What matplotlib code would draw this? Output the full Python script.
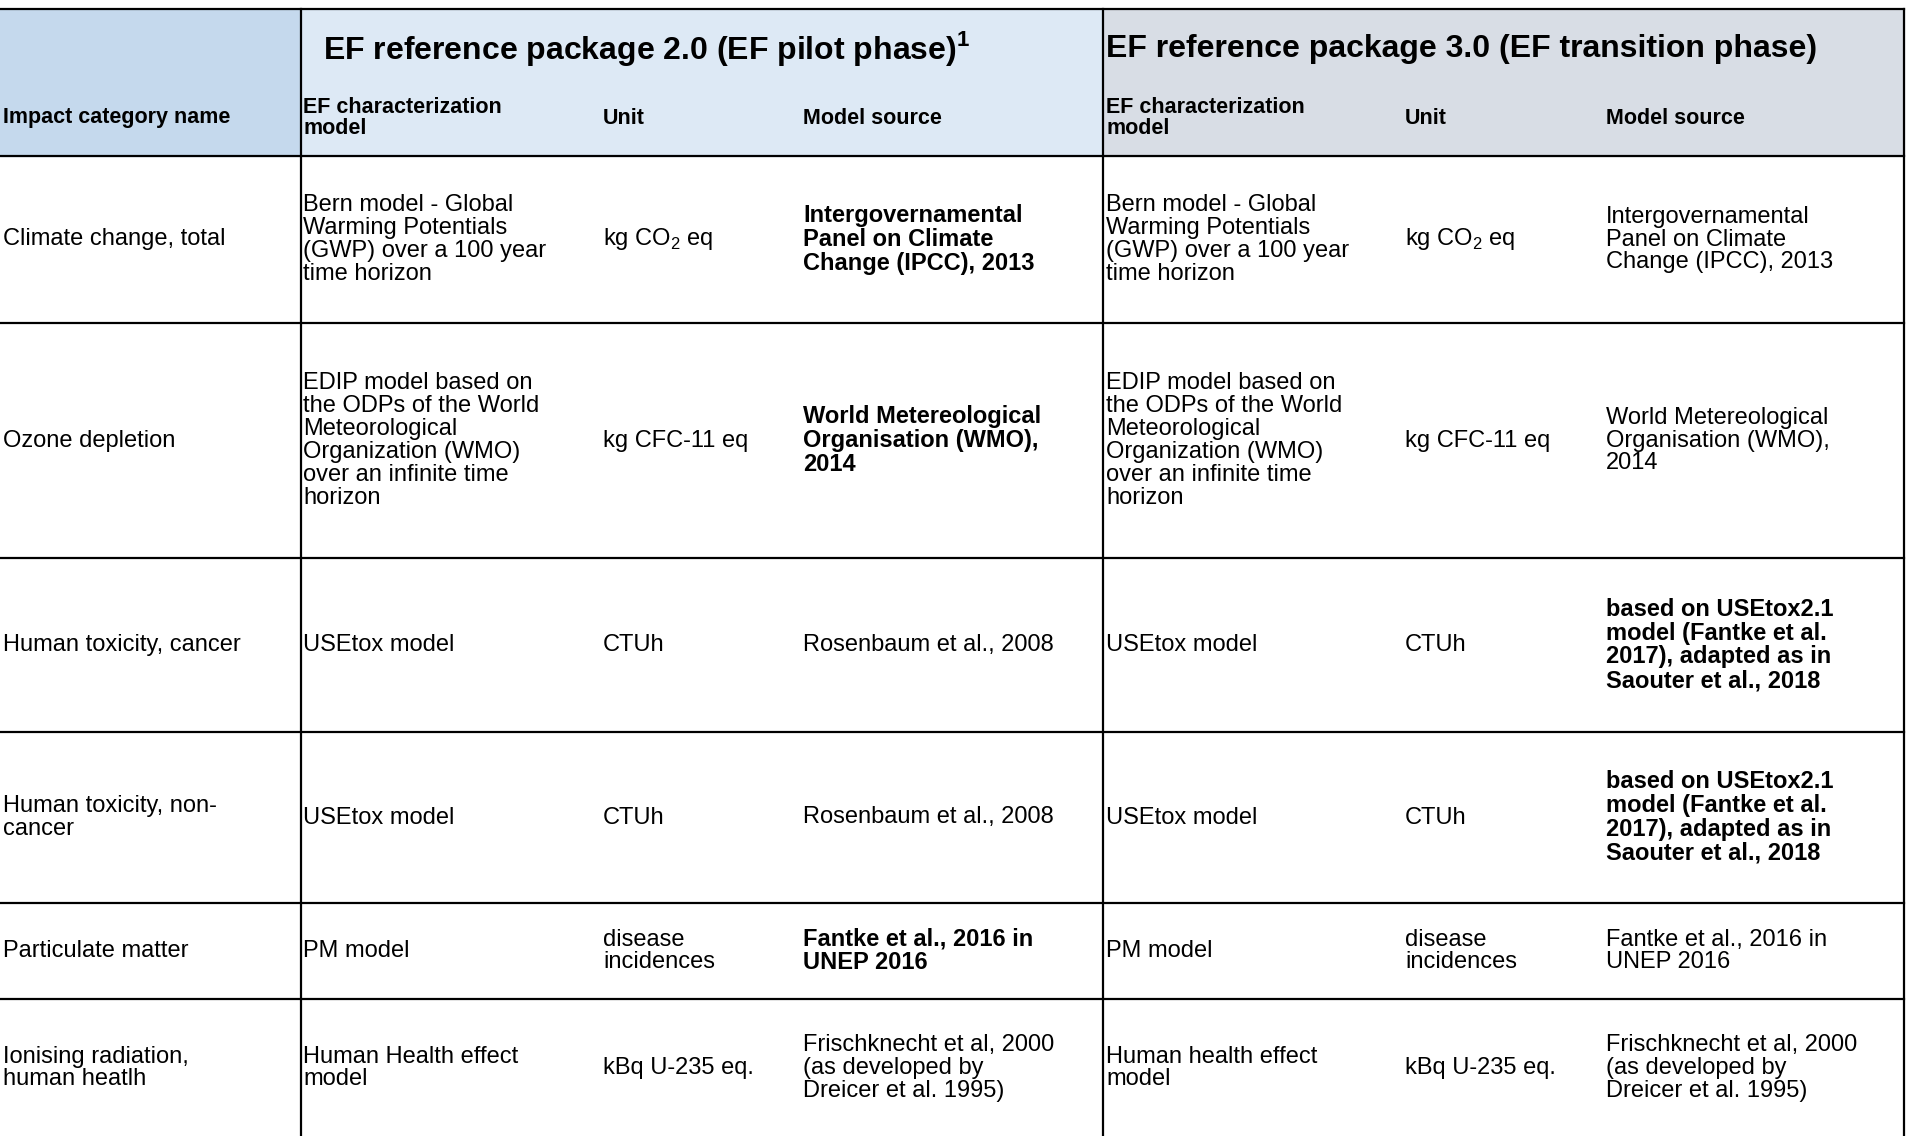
import matplotlib.pyplot as plt
from matplotlib.patches import Rectangle

plt.rcParams['font.family'] = ['Liberation Sans', 'DejaVu Sans']
plt.rcParams['mathtext.fontset'] = 'custom'
plt.rcParams['mathtext.rm'] = 'Liberation Sans'
plt.rcParams['mathtext.bf'] = 'Liberation Sans:bold'

# table content
titles = [r"EF reference package 2.0 (EF pilot phase)$^\mathbf{1}$",
          "EF reference package 3.0 (EF transition phase)"]
sub_headers = ["EF characterization\nmodel", "Unit", "Model source"]
impact_names = ["Climate change, total", "Ozone depletion", "Human toxicity, cancer",
                "Human toxicity, non-\ncancer", "Particulate matter",
                "Ionising radiation,\nhuman heatlh"]
ef2_model = ["Bern model - Global\nWarming Potentials\n(GWP) over a 100 year\ntime horizon",
             "EDIP model based on\nthe ODPs of the World\nMeteorological\nOrganization (WMO)\nover an infinite time\nhorizon",
             "USEtox model", "USEtox model", "PM model", "Human Health effect\nmodel"]
ef3_model = ["Bern model - Global\nWarming Potentials\n(GWP) over a 100 year\ntime horizon",
             "EDIP model based on\nthe ODPs of the World\nMeteorological\nOrganization (WMO)\nover an infinite time\nhorizon",
             "USEtox model", "USEtox model", "PM model", "Human health effect\nmodel"]
units = ["kg CO$_2$ eq", "kg CFC-11 eq", "CTUh", "CTUh", "disease\nincidences",
         "kBq U-235 eq."]
ef2_source = ["Intergovernamental\nPanel on Climate\nChange (IPCC), 2013",
              "World Metereological\nOrganisation (WMO),\n2014",
              "Rosenbaum et al., 2008", "Rosenbaum et al., 2008",
              "Fantke et al., 2016 in\nUNEP 2016",
              "Frischknecht et al, 2000\n(as developed by\nDreicer et al. 1995)"]
ef2_source_bold = [True, True, False, False, True, False]
ef3_source = ["Intergovernamental\nPanel on Climate\nChange (IPCC), 2013",
              "World Metereological\nOrganisation (WMO),\n2014",
              "based on USEtox2.1\nmodel (Fantke et al.\n2017), adapted as in\nSaouter et al., 2018",
              "based on USEtox2.1\nmodel (Fantke et al.\n2017), adapted as in\nSaouter et al., 2018",
              "Fantke et al., 2016 in\nUNEP 2016",
              "Frischknecht et al, 2000\n(as developed by\nDreicer et al. 1995)"]
ef3_source_bold = [False, False, True, True, False, False]

W, H = 1910, 1136
fig = plt.figure(figsize=(W / 100, H / 100), dpi=100)
ax = fig.add_axes([0, 0, 1, 1])
ax.set_xlim(0, W)
ax.set_ylim(H, 0)
ax.axis('off')

top, head_bot = 8.5, 156
row_lines = [156, 323, 558, 732, 903, 999, 1142]
vlines = [301, 1103, 1904]
col_x = [3, 303, 603, 803, 1106, 1405, 1606]

ax.add_patch(Rectangle((0, top), 301, head_bot - top, color='#c5d9ed', zorder=0))
ax.add_patch(Rectangle((301, top), 802, head_bot - top, color='#dde9f5', zorder=0))
ax.add_patch(Rectangle((1103, top), 801, head_bot - top, color='#d8dde5', zorder=0))

lw = 1.6
ax.plot([0, 1904], [top, top], color='black', lw=lw)
for y in row_lines[:-1]:
    ax.plot([0, 1904], [y, y], color='black', lw=lw)
for x in vlines:
    ax.plot([x, x], [top, H], color='black', lw=lw)

fs = 17
ax.text(323, 49, titles[0], fontsize=23, fontweight='bold', va='center')
ax.text(1106, 49, titles[1], fontsize=23, fontweight='bold', va='center')
ax.text(col_x[0], 118, "Impact category name", fontsize=15.5, fontweight='bold', va='center')
for i, h in enumerate(sub_headers):
    for base in (1, 4):
        ax.text(col_x[base + i], 118, h, fontsize=15.5, fontweight='bold',
                va='center', linespacing=0.95)

for r in range(len(impact_names)):
    yc = (row_lines[r] + row_lines[r + 1]) / 2
    if r == len(impact_names) - 1:
        yc = 1068
    cells = [(impact_names[r], False), (ef2_model[r], False), (units[r], False),
             (ef2_source[r], ef2_source_bold[r]), (ef3_model[r], False),
             (units[r], False), (ef3_source[r], ef3_source_bold[r])]
    for c, (txt, bold) in enumerate(cells):
        ax.text(col_x[c], yc, txt, fontsize=fs, va='center', linespacing=1.05,
                fontweight='bold' if bold else 'normal')

fig.savefig('out.png', dpi=100)
